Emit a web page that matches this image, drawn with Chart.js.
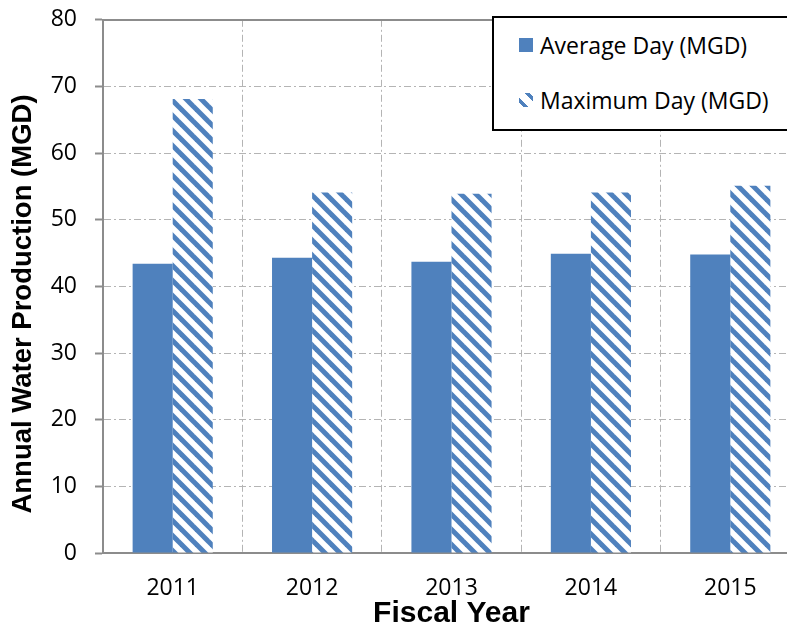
<!DOCTYPE html>
<html>
<head>
<meta charset="utf-8">
<script src="https://cdn.jsdelivr.net/npm/chart.js@4"></script>
<style>
  html, body { margin: 0; padding: 0; background: #fff; overflow: hidden; width: 787px; height: 640px; }
  #wrap { position: absolute; left: 0; top: -12px; width: 800px; height: 652px; }
  #legend { position: absolute; left: 492px; top: 16px; width: 310px; height: 111px; border: 2px solid #000; background: #fff; font-family: "Open Sans", sans-serif; font-size: 23px; color: #000; }
  .item { position: absolute; left: 25px; display: flex; align-items: center; white-space: nowrap; }
  .mk { width: 14px; height: 14px; margin-right: 7px; }
</style>
</head>
<body>
<div id="wrap"><canvas id="c" width="800" height="652"></canvas></div>
<div id="legend"></div>
<script>
const categories = ["2011", "2012", "2013", "2014", "2015"];
const seriesNames = ["Average Day (MGD)", "Maximum Day (MGD)"];
const averageDay = [43.4, 44.3, 43.7, 44.9, 44.8];
const maximumDay = [68.1, 54.1, 53.9, 54.1, 55.1];
const yTicks = [0, 10, 20, 30, 40, 50, 60, 70, 80];
const xTitle = "Fiscal Year";
const yTitle = "Annual Water Production (MGD)";

const BLUE = "#4F81BD";
const CANVAS_SHIFT = 12;

function makeHatch() {
  const t = document.createElement("canvas");
  t.width = 15; t.height = 15;
  const g = t.getContext("2d");
  g.fillStyle = "#fff";
  g.fillRect(0, 0, 15, 15);
  g.strokeStyle = BLUE;
  g.lineWidth = 5;
  [-15, 0, 15].forEach(o => {
    g.beginPath();
    g.moveTo(o - 2, -2);
    g.lineTo(o + 17, 17);
    g.stroke();
  });
  return document.getElementById("c").getContext("2d").createPattern(t, "repeat");
}

const hatch = makeHatch();

const decor = {
  id: "decor",
  beforeDatasetsDraw(chart) {
    const { ctx, chartArea } = chart;
    ctx.save();
    ctx.strokeStyle = "#8C8C8C";
    ctx.lineWidth = 2;
    ctx.beginPath();
    ctx.moveTo(chartArea.left, Math.round(chartArea.top));
    ctx.lineTo(chartArea.right, Math.round(chartArea.top));
    ctx.stroke();
    ctx.restore();
  },
  afterDraw(chart) {
    const { ctx } = chart;
    ctx.save();
    ctx.translate(23, 304 + CANVAS_SHIFT);
    ctx.rotate(-Math.PI / 2);
    ctx.font = "bold 27.5px 'Liberation Sans', Arial, sans-serif";
    ctx.fillStyle = "#000";
    ctx.textAlign = "center";
    ctx.textBaseline = "middle";
    ctx.fillText(yTitle, 0, 0);
    ctx.restore();
  }
};

const tickFont = { family: "'Open Sans', sans-serif", size: 23 };
const xTitleFont = { family: "'Liberation Sans', Arial, sans-serif", size: 30, weight: "bold" };

new Chart(document.getElementById("c"), {
  type: "bar",
  data: {
    labels: categories,
    datasets: [
      { label: seriesNames[0], data: averageDay, backgroundColor: BLUE, borderWidth: 0 },
      { label: seriesNames[1], data: maximumDay, backgroundColor: hatch, borderWidth: 0 }
    ]
  },
  plugins: [decor],
  options: {
    responsive: false,
    animation: false,
    devicePixelRatio: 1,
    layout: { padding: { top: 0, left: 0, right: 0, bottom: 0 } },
    datasets: { bar: { categoryPercentage: 0.575, barPercentage: 1.0 } },
    plugins: { legend: { display: false }, tooltip: { enabled: false } },
    scales: {
      x: {
        offset: true,
        grid: { offset: true, color: "#B4B4B4", lineWidth: 1, drawTicks: false },
        border: { display: true, color: "#8C8C8C", width: 2, dash: [7, 3, 2, 3] },
        ticks: { font: tickFont, color: "#000", padding: 22 },
        title: { display: true, text: xTitle, font: xTitleFont, color: "#000", padding: { top: 0, bottom: 8 } },
        afterFit(s) { s.height = 87; }
      },
      y: {
        min: 0, max: 80,
        afterBuildTicks(s) { s.ticks = yTicks.map(v => ({ value: v })); },
        grid: { color: "#B4B4B4", lineWidth: 1, drawTicks: true, tickLength: 8, tickColor: "#8C8C8C", tickWidth: 2 },
        border: { display: true, color: "#8C8C8C", width: 2, dash: [7, 3, 2, 3] },
        ticks: { font: tickFont, color: "#000", padding: 18 },
        title: { display: false, text: yTitle },
        afterFit(s) { s.width = 103; }
      }
    }
  }
});

// Legend
const lg = document.getElementById("legend");
const tops = [11, 66];
seriesNames.forEach((name, i) => {
  const it = document.createElement("div");
  it.className = "item";
  it.style.top = tops[i] + "px";
  const mk = document.createElement("span");
  mk.className = "mk";
  mk.style.background = i === 0 ? BLUE : "repeating-linear-gradient(45deg, #fff 0 3px, " + BLUE + " 3px 7px, #fff 7px 10.6px)";
  const tx = document.createElement("span");
  tx.textContent = name;
  it.appendChild(mk); it.appendChild(tx);
  lg.appendChild(it);
});
</script>
</body>
</html>
